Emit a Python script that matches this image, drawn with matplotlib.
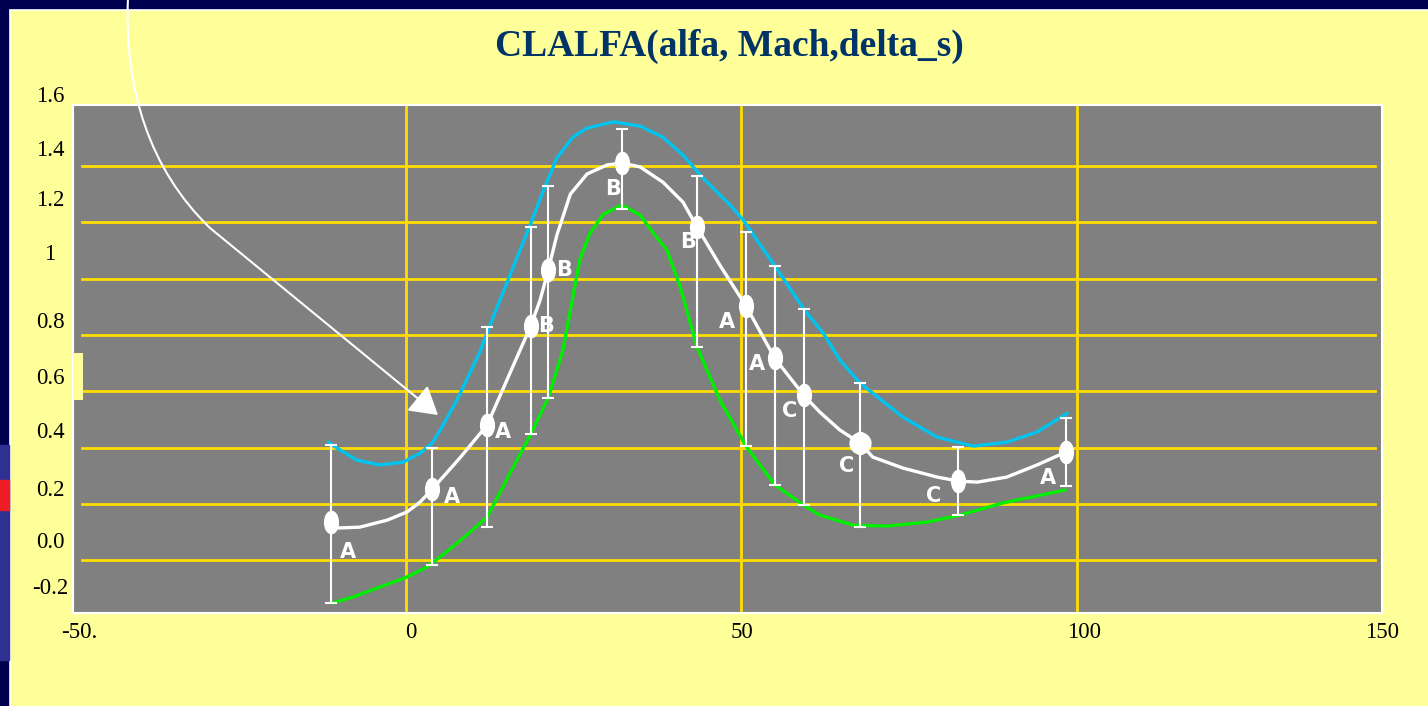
import matplotlib
matplotlib.use("Agg")
import matplotlib.pyplot as plt
from matplotlib.path import Path
from matplotlib.patches import Rectangle, FancyArrowPatch
from matplotlib.transforms import Affine2D
import numpy as np

# measured points (alfa, CL) with spread
alfa = [-11.2, 3.9, 12.1, 18.6, 21.2, 32.2, 43.4, 50.7, 55.0, 59.3, 67.7, 82.3, 98.4]
cl = [0.135, 0.252, 0.48, 0.832, 1.03, 1.411, 1.183, 0.903, 0.717, 0.586, 0.416, 0.281, 0.384]
cl_hi = [0.409, 0.40, 0.828, 1.183, 1.329, 1.532, 1.365, 1.166, 1.045, 0.892, 0.629, 0.402, 0.505]
cl_lo = [-0.153, -0.018, 0.117, 0.448, 0.576, 1.247, 0.757, 0.405, 0.267, 0.195, 0.117, 0.16, 0.263]
point_class = ['A', 'A', 'A', 'B', 'B', 'B', 'B', 'A', 'A', 'C', 'C', 'C', 'A']

# mean curve (white)
mid_x = [-11.2, -10.1, -6.9, -2.8, 0.15, 2.1, 3.9, 8.0, 12.1, 15.9, 18.6, 20.0, 21.2, 22.5, 24.5, 27.0,
         30.0, 32.2, 34.9, 38.3, 41.3, 43.4, 46.8, 50.7, 55.0, 59.3, 61.7, 64.7, 67.7, 69.6, 74.1,
         79.2, 82.3, 85.2, 89.6, 94.1, 98.4]
mid_y = [0.135, 0.114, 0.117, 0.142, 0.171, 0.206, 0.252, 0.362, 0.48, 0.686, 0.832, 0.924, 1.03, 1.155, 1.300, 1.372,
         1.404, 1.411, 1.397, 1.343, 1.272, 1.183, 1.048, 0.903, 0.717, 0.586, 0.526, 0.462, 0.416, 0.366, 0.327,
         0.295, 0.281, 0.277, 0.295, 0.338, 0.384]

# upper envelope (blue)
up_x = [-11.6, -9.8, -7.3, -3.9, -0.45, 2.1, 3.9, 5.1, 7.6, 11.0, 13.0, 18.5, 20.4, 22.5, 24.9, 27.0,
        30.9, 34.9, 38.3, 41.3, 44.3, 48.3, 50.3, 55.0, 59.3, 62.2, 64.7, 67.7, 74.1, 79.2, 84.6,
        89.6, 94.1, 98.6]
up_y = [0.419, 0.391, 0.355, 0.338, 0.348, 0.380, 0.416, 0.462, 0.569, 0.739, 0.864, 1.19, 1.308, 1.429, 1.503, 1.535,
        1.557, 1.542, 1.503, 1.439, 1.357, 1.262, 1.208, 1.045, 0.892, 0.807, 0.711, 0.629, 0.508, 0.437, 0.405,
        0.419, 0.455, 0.522]

# lower envelope (green)
lo_x = [-11.0, -7.9, -3.9, 0.15, 3.1, 6.6, 9.1, 12.1, 16.0, 18.6, 21.2, 23.4, 25.9, 27.4, 29.4, 32.2,
        34.9, 37.1, 38.9, 40.9, 43.4, 46.8, 50.7, 55.0, 59.3, 61.7, 66.7, 71.7, 77.7, 82.6, 89.0, 98.3]
lo_y = [-0.153, -0.131, -0.096, -0.060, -0.025, 0.040, 0.090, 0.153, 0.331, 0.448, 0.576, 0.746, 1.066, 1.160, 1.228, 1.262,
        1.226, 1.155, 1.102, 0.97, 0.757, 0.569, 0.405, 0.267, 0.195, 0.160, 0.124, 0.121, 0.135, 0.160, 0.203, 0.249]

grid_y = [0.0, 0.2, 0.4, 0.6, 0.8, 1.0, 1.2, 1.4]
grid_x = [0, 50, 100]
ytick_labels = ['1.6', '1.4', '1.2', '1', '0.8', '0.6', '0.4', '0.2', '0.0', '-0.2']
xtick_labels = ['-50.', '0', '50', '100', '150']

NAVY = '#000050'
PANEL = '#ffff99'
GRID = '#ffdd00'
BLUE = '#00c4f0'
GREEN = '#00ee00'

fig = plt.figure(figsize=(14.28, 7.06), dpi=100)

# background: navy frame + yellow panel (pixel coordinates)
bg = fig.add_axes([0, 0, 1, 1], zorder=-10)
bg.set_xlim(0, 1428)
bg.set_ylim(706, 0)
bg.axis('off')
bg.add_patch(Rectangle((0, 0), 1428, 706, color=NAVY))
bg.add_patch(Rectangle((10, 10), 1430, 700, facecolor=PANEL, edgecolor='white', lw=1.2))
bg.add_patch(Rectangle((0, 445), 9, 215, color='#2e3192'))
bg.add_patch(Rectangle((0, 480), 9, 30, color='#ee1c25'))

ax = fig.add_axes([73 / 1428, 1 - 613 / 706, 1309 / 1428, 508 / 706])
ax.set_facecolor('#808080')
ax.set_xlim(-49.66, 145.54)
ax.set_ylim(-0.188, 1.617)
for s in ax.spines.values():
    s.set_color('white')
    s.set_linewidth(1.5)
ax.set_xticks([])
ax.set_yticks([])

for g in grid_y:
    ax.axhline(g, xmin=0.007, xmax=0.995, color=GRID, lw=2, zorder=1)
for g in grid_x:
    ax.axvline(g, ymin=0.005, ymax=1, color=GRID, lw=2, zorder=1)

ax.plot(up_x, up_y, color=BLUE, lw=2.4, zorder=3, solid_capstyle='round', solid_joinstyle='round')
ax.plot(lo_x, lo_y, color=GREEN, lw=2.4, zorder=3, solid_capstyle='round', solid_joinstyle='round')

cl_arr = np.array(cl)
yerr = [cl_arr - np.array(cl_lo), np.array(cl_hi) - cl_arr]
ax.errorbar(alfa, cl, yerr=yerr, fmt='none', ecolor='white', elinewidth=1.5,
            capsize=4.5, capthick=1.5, zorder=4)

ax.plot(mid_x, mid_y, color='white', lw=2.4, zorder=5, solid_capstyle='round', solid_joinstyle='round')

ellipse = Path.unit_circle().transformed(Affine2D().scale(0.62, 1.0))
ax.plot(alfa, cl, linestyle='none', marker=ellipse, markersize=16, color='white', zorder=6)
ax.plot(alfa[10], cl[10], marker='o', markersize=15, color='white', zorder=6)

label_offsets = [(17, -30), (20, -8), (16, -7), (15, 0), (16, 0), (-9, -26), (-9, -15),
                 (-19, -16), (-18, -6), (-14, -16), (-13, -23), (-24, -15), (-18, -26)]
for x, y, c, off in zip(alfa, cl, point_class, label_offsets):
    ax.annotate(c, (x, y), xytext=off, textcoords='offset pixels', color='white',
                fontsize=15, fontweight='bold', ha='center', va='center', zorder=7)

# overlay: title, tick labels, arrow (pixel coordinates)
ov = fig.add_axes([0, 0, 1, 1], zorder=10)
ov.set_xlim(0, 1428)
ov.set_ylim(706, 0)
ov.axis('off')
ov.patch.set_alpha(0)

ov.text(729, 46, 'CLALFA(alfa, Mach,delta_s)', color='#003366', fontsize=27,
        fontweight='bold', family='Liberation Serif', ha='center', va='center')

ylab_pos = [96, 151, 200, 255, 323, 379, 432, 491, 542, 589]
for t, p in zip(ytick_labels, ylab_pos):
    ov.text(50, p, t, fontsize=16.5, family='Liberation Serif', ha='center', va='center', color='black')
xlab_pos = [79, 411, 742, 1084, 1382]
for t, p in zip(xtick_labels, xlab_pos):
    ov.text(p, 633, t, fontsize=16.5, family='Liberation Serif', ha='center', va='center', color='black')

ov.add_patch(Rectangle((73, 353), 10, 47, color=PANEL, lw=0))

arrow_path = Path([(128, -2), (124, 90), (150, 170), (210, 228), (438, 415)],
                  [Path.MOVETO, Path.CURVE4, Path.CURVE4, Path.CURVE4, Path.LINETO])
ov.add_patch(FancyArrowPatch(path=arrow_path, arrowstyle='-|>,head_length=0.5,head_width=0.3',
                             mutation_scale=34, color='white', lw=1.5, transform=ov.transData))

fig.savefig('out.png', dpi=100)
